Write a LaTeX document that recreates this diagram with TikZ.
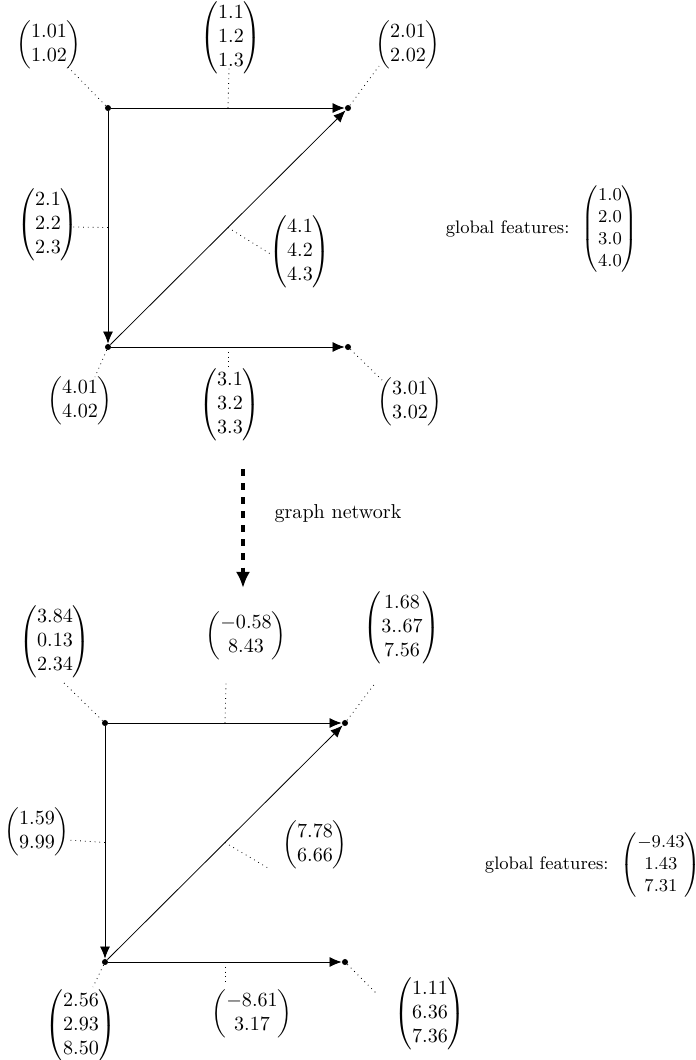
\documentclass[tikz,border=0pt]{standalone}
\usepackage{amsmath}
\usetikzlibrary{arrows.meta, positioning}

\begin{document}
\begin{tikzpicture}[x=0.4975pt, y=-0.4975pt]
            \tikzstyle{vertex} = [circle, fill=black, inner sep=0pt, minimum size=3pt]
            \tikzstyle{arrow} = [-{Latex[length=6pt, width=5pt]}]
            \tikzstyle{link} = [dotted]
            \tikzstyle{feat} = [inner sep=0pt]
            \tikzstyle{glob} = [inner sep=0pt, font=\small]
            \tikzstyle{flow} = [line width=2pt, dash pattern=on 3.5pt off 3.5pt, -{Latex[length=8pt, width=7pt]}]

            \useasboundingbox (0,0) rectangle (696,1060);

            % input graph
            \node (a1)[vertex] at (108,108) {};
            \node (a2)[vertex] at (348,108) {};
            \node (a3)[vertex] at (348,347) {};
            \node (a4)[vertex] at (108,347) {};
            \draw [arrow] (a1) -- coordinate (a12) (a2);
            \draw [arrow] (a1) -- coordinate (a14) (a4);
            \draw [arrow] (a4) -- coordinate (a42) (a2);
            \draw [arrow] (a4) -- coordinate (a43) (a3);

            \node (fa1)[feat] at (49,45) {$\begin{pmatrix}1.01\\1.02\end{pmatrix}$};
            \node (fa2)[feat] at (408,45) {$\begin{pmatrix}2.01\\2.02\end{pmatrix}$};
            \node (fa3)[feat] at (410,402) {$\begin{pmatrix}3.01\\3.02\end{pmatrix}$};
            \node (fa4)[feat] at (80,401) {$\begin{pmatrix}4.01\\4.02\end{pmatrix}$};
            \node (fa12)[feat] at (231,38) {$\begin{pmatrix}1.1\\1.2\\1.3\end{pmatrix}$};
            \node (fa14)[feat] at (48,225) {$\begin{pmatrix}2.1\\2.2\\2.3\end{pmatrix}$};
            \node (fa42)[feat] at (300,252) {$\begin{pmatrix}4.1\\4.2\\4.3\end{pmatrix}$};
            \node (fa43)[feat] at (230,405) {$\begin{pmatrix}3.1\\3.2\\3.3\end{pmatrix}$};
            \node (ga)[glob] at (542,229) {global features:\ \ $\begin{pmatrix}1.0\\2.0\\3.0\\4.0\end{pmatrix}$};

            \coordinate (ta1) at (68,67);
            \coordinate (ta2) at (379,66);
            \coordinate (ta3) at (382,380);
            \coordinate (ta4) at (95,377);
            \coordinate (ta12) at (229,68);
            \coordinate (ta14) at (73,227);
            \coordinate (ta42) at (272,255);
            \coordinate (ta43) at (228,370);
            \draw [link] (a1) -- (ta1);
            \draw [link] (a2) -- (ta2);
            \draw [link] (a3) -- (ta3);
            \draw [link] (a4) -- (ta4);
            \draw [link] (a12) -- (ta12);
            \draw [link] (a14) -- (ta14);
            \draw [link] (a42) -- (ta42);
            \draw [link] (a43) -- (ta43);

            % step
            \coordinate (from) at (243,469);
            \coordinate (to) at (243,588);
            \draw [flow] (from) -- (to);
            \node (gn) at (338,514) {graph network};

            % output graph
            \node (b1)[vertex] at (105,723) {};
            \node (b2)[vertex] at (345,723) {};
            \node (b3)[vertex] at (345,962) {};
            \node (b4)[vertex] at (105,962) {};
            \draw [arrow] (b1) -- coordinate (b12) (b2);
            \draw [arrow] (b1) -- coordinate (b14) (b4);
            \draw [arrow] (b4) -- coordinate (b42) (b2);
            \draw [arrow] (b4) -- coordinate (b43) (b3);

            \node (fb1)[feat] at (55,642) {$\begin{pmatrix}3.84\\0.13\\2.34\end{pmatrix}$};
            \node (fb2)[feat] at (402,628) {$\begin{pmatrix}1.68\\3..67\\7.56\end{pmatrix}$};
            \node (fb3)[feat] at (430,1014) {$\begin{pmatrix}1.11\\6.36\\7.36\end{pmatrix}$};
            \node (fb4)[feat] at (81,1026) {$\begin{pmatrix}2.56\\2.93\\8.50\end{pmatrix}$};
            \node (fb12)[feat] at (246,636) {$\begin{pmatrix}-0.58\\8.43\end{pmatrix}$};
            \node (fb14)[feat] at (37,832) {$\begin{pmatrix}1.59\\9.99\end{pmatrix}$};
            \node (fb42)[feat] at (315,845) {$\begin{pmatrix}7.78\\6.66\end{pmatrix}$};
            \node (fb43)[feat] at (252,1014) {$\begin{pmatrix}-8.61\\3.17\end{pmatrix}$};
            \node (gb)[glob] at (593,865) {global features:\ \ $\begin{pmatrix}-9.43\\1.43\\7.31\end{pmatrix}$};

            \coordinate (tb1) at (63,682);
            \coordinate (tb2) at (376,682);
            \coordinate (tb3) at (378,995);
            \coordinate (tb4) at (93,987);
            \coordinate (tb12) at (226,683);
            \coordinate (tb14) at (68,840);
            \coordinate (tb42) at (268,868);
            \coordinate (tb43) at (225,983);
            \draw [link] (b1) -- (tb1);
            \draw [link] (b2) -- (tb2);
            \draw [link] (b3) -- (tb3);
            \draw [link] (b4) -- (tb4);
            \draw [link] (b12) -- (tb12);
            \draw [link] (b14) -- (tb14);
            \draw [link] (b42) -- (tb42);
            \draw [link] (b43) -- (tb43);
\end{tikzpicture}
\end{document}
